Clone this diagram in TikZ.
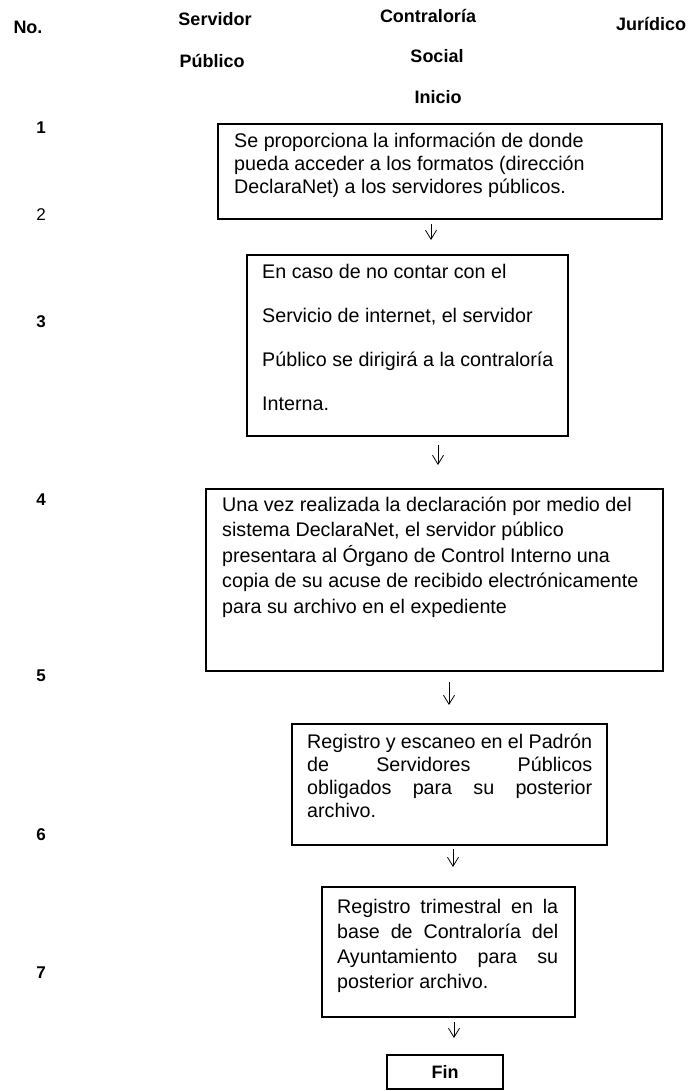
\documentclass[tikz,border=0pt]{standalone}
\usepackage{fontspec}
\setmainfont{Liberation Sans}
\usetikzlibrary{arrows.meta}
\begin{document}
\begin{tikzpicture}[x=1pt,y=-1pt,
  box/.style={draw, line width=1.1pt, inner sep=0pt},
  arr/.style={-{Straight Barb[length=9pt,width=11pt]}, line width=0.8pt},
  txt/.style={anchor=base west, inner sep=0pt, font=\fontsize{19.7}{23}\selectfont},
  hdr/.style={inner sep=0pt, font=\bfseries\fontsize{18}{22}\selectfont},
  num/.style={inner sep=0pt, font=\bfseries\fontsize{17}{20}\selectfont},
  numr/.style={inner sep=0pt, font=\fontsize{17}{20}\selectfont}]
\useasboundingbox (0,0) rectangle (690,1091);
% headers
\node[hdr] (hno) at (28,27) {No.};
\node[hdr] (hsv1) at (215,19) {Servidor};
\node[hdr] (hsv2) at (212,61) {Público};
\node[hdr] (hcs1) at (428,16) {Contraloría};
\node[hdr] (hcs2) at (437,56) {Social};
\node[hdr] (hini) at (438,97) {Inicio};
\node[hdr] (hjur) at (651,24) {Jurídico};
% numbers
\node[num] (n1) at (41,128) {1};
\node[numr] (n2) at (41,215) {2};
\node[num] (n3) at (41,322) {3};
\node[num] (n4) at (41,500) {4};
\node[num] (n5) at (41,676) {5};
\node[num] (n6) at (41,835) {6};
\node[num] (n7) at (41,973) {7};
% boxes
\node[box, minimum width=444pt, minimum height=95pt] (b1) at (440,171.5) {};
\node[box, minimum width=321pt, minimum height=181pt] (b2) at (407.5,345.5) {};
\node[box, minimum width=457pt, minimum height=182pt] (b3) at (434.5,580) {};
\node[box, minimum width=315pt, minimum height=121pt] (b4) at (449.5,784.5) {};
\node[box, minimum width=253pt, minimum height=130pt] (b5) at (448.5,952) {};
\node[box, minimum width=116pt, minimum height=34pt, font=\bfseries\fontsize{18}{22}\selectfont] (fin) at (445,1072) {Fin};
% texts
\node[txt] (t1) at (234,148) {\vtop{\baselineskip=23pt
  \hbox{Se proporciona la información de donde}
  \hbox{pueda acceder a los formatos (dirección}
  \hbox{DeclaraNet) a los servidores públicos.}}};
\node[txt] (t2) at (262,278) {\vtop{\baselineskip=44.3pt
  \hbox{En caso de no contar con el}
  \hbox{Servicio de internet, el servidor}
  \hbox{Público se dirigirá a la contraloría}
  \hbox{Interna.}}};
\node[txt] (t3) at (222,511) {\vtop{\baselineskip=25.5pt
  \hbox{Una vez realizada la declaración por medio del}
  \hbox{sistema DeclaraNet, el servidor público}
  \hbox{presentara al Órgano de Control Interno una}
  \hbox{copia de su acuse de recibido electrónicamente}
  \hbox{para su archivo en el expediente}}};
\node[txt] (t4) at (307,748) {\vtop{\baselineskip=23.3pt
  \hbox to 285pt{Registro y escaneo en el Padrón}
  \hbox to 285pt{de Servidores Públicos}
  \hbox to 285pt{obligados para su posterior}
  \hbox{archivo.}}};
\node[txt] (t5) at (337,913) {\vtop{\baselineskip=25pt
  \hbox to 221pt{Registro trimestral en la}
  \hbox to 221pt{base de Contraloría del}
  \hbox to 221pt{Ayuntamiento para su}
  \hbox{posterior archivo.}}};
% arrows
\coordinate (a1s) at (431,224); \coordinate (a1e) at (431,240);
\coordinate (a2s) at (438,445); \coordinate (a2e) at (438,465);
\coordinate (a3s) at (449,682); \coordinate (a3e) at (449,705);
\coordinate (a4s) at (453,849); \coordinate (a4e) at (453,867);
\coordinate (a5s) at (454,1022); \coordinate (a5e) at (454,1038);
\draw[arr] (a1s) -- (a1e);
\draw[arr] (a2s) -- (a2e);
\draw[arr] (a3s) -- (a3e);
\draw[arr] (a4s) -- (a4e);
\draw[arr] (a5s) -- (a5e);
\end{tikzpicture}
\end{document}
